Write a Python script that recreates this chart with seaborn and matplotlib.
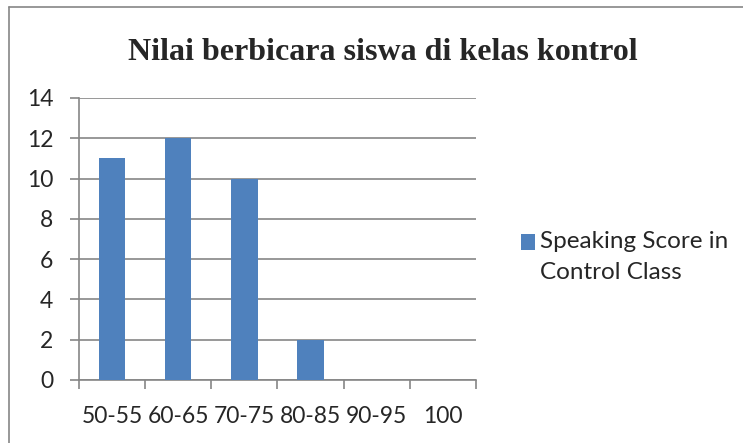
import matplotlib
matplotlib.use("Agg")
import matplotlib.pyplot as plt
import seaborn as sns
from matplotlib.lines import Line2D
from matplotlib.patches import Rectangle
from matplotlib.container import BarContainer
from matplotlib.legend_handler import HandlerPatch, update_from_first_child

categories = ['50-55', '60-65', '70-75', '80-85', '90-95', '100']
scores = [11, 12, 10, 2, 0, 0]
series_name = 'Speaking Score in\nControl Class'
title = 'Nilai berbicara siswa di kelas kontrol'

sns.set_style('white')
plt.rcParams['font.family'] = ['Lato', 'DejaVu Sans']

fig = plt.figure(figsize=(7.43, 4.43), dpi=100)
ax = fig.add_axes([79 / 743, 1 - 380 / 443, (476 - 79) / 743, (380 - 98) / 443])

sns.barplot(x=categories, y=scores, color='#4F81BD', width=0.4, saturation=1,
            linewidth=0, ax=ax, label=series_name, zorder=3)

ax.set_ylim(0, 14)
ax.set_yticks(range(0, 15, 2))
ax.set_xlim(-0.5, len(categories) - 0.5)
ax.grid(axis='y', color='#868686', linewidth=1.2, zorder=0)
ax.set_axisbelow(True)

for side in ['top', 'right']:
    ax.spines[side].set_visible(False)
for side in ['left', 'bottom']:
    ax.spines[side].set_color('#868686')
    ax.spines[side].set_linewidth(1.2)

ax.set_xticks([i - 0.5 for i in range(len(categories) + 1)], minor=True)
ax.tick_params(axis='x', which='major', bottom=False, length=0, pad=19, labelsize=16.5)
ax.tick_params(axis='x', which='minor', bottom=True, length=6.5, width=1.2,
               color='#868686', direction='out')
ax.tick_params(axis='y', left=True, length=6.5, width=1.2, color='#868686',
               direction='out', pad=12, labelsize=16.5)
ax.set_xlabel('')
ax.set_ylabel('')


# put the legend square next to the first line of the label
def top_square(legend, orig_handle, xdescent, ydescent, width, height, fontsize):
    return Rectangle((-xdescent, -ydescent + fontsize * 0.62), width, height)


leg = ax.legend(loc='center left', bbox_to_anchor=(1.058, 0.436), frameon=False, fontsize=17.5,
                handlelength=0.6, handleheight=0.6, handletextpad=0.2,
                handler_map={BarContainer: HandlerPatch(patch_func=top_square,
                                                        update_func=update_from_first_child)})
for t in leg.get_texts():
    t.set_linespacing(1.55)

fig.text(383 / 743, 1 - 52 / 443, title, ha='center', va='center',
         fontsize=23, fontweight='bold', family='Liberation Serif')

# outer chart border (left and top visible)
fig.add_artist(Line2D([9 / 743, 9 / 743], [0, 1 - 7 / 443], transform=fig.transFigure,
                      color='#868686', linewidth=1.2))
fig.add_artist(Line2D([9 / 743, 1], [1 - 7 / 443, 1 - 7 / 443], transform=fig.transFigure,
                      color='#868686', linewidth=1.2))

fig.savefig('out.png', dpi=100)
